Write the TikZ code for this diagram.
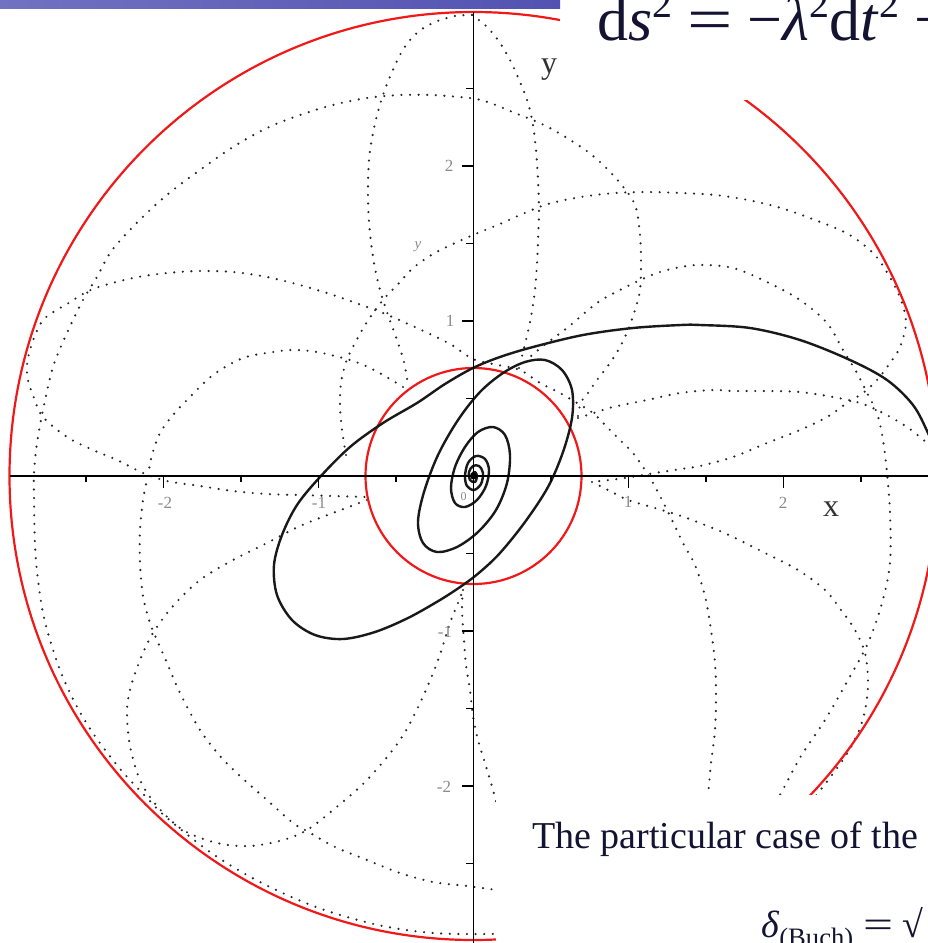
\documentclass[tikz,border=0pt]{standalone}
\usepackage{fontspec}
\setmainfont{Liberation Serif}
\usepackage{graphicx}
\definecolor{barA}{HTML}{7272C2}
\definecolor{barB}{HTML}{A6A6DC}
\definecolor{barC}{HTML}{5252B2}
\definecolor{ink}{HTML}{141432}
\definecolor{redline}{HTML}{F01818}
\definecolor{labgray}{HTML}{8A8A8A}
\newcommand{\supnum}[1]{\raisebox{23pt}{\fontsize{40}{40}\selectfont #1}}
\begin{document}
\begin{tikzpicture}[x=1pt,y=-1pt,
  dotc/.style={draw=black!85, line width=2.4pt, line cap=round, dash pattern=on 0pt off 8.6pt},
  spiral/.style={draw=black!90, line width=2.4pt, line join=round},
  redc/.style={draw=redline, line width=2.2pt},
  axisl/.style={draw=black, line width=1.6pt},
  tickl/.style={draw=black, line width=1.4pt},
  ticklab/.style={text=labgray, font=\fontsize{17}{17}\selectfont, inner sep=0pt},
  axlab/.style={text=black!80, font=\fontsize{32}{32}\selectfont, inner sep=0pt}]
\useasboundingbox (0,0) rectangle (928,943);
\clip (0,0) rectangle (928,943);
\coordinate (O) at (473.5,476);

% ---------------- dotted orbit ----------------
\draw[dotc] plot[smooth, tension=0.55] coordinates {(472,15) (455,16) (435,22) (418,32) (404,48) (392,72) (382,98) (374,128) (369,160) (368,200) (370,233) (374,263) (380,290) (388,315) (397,340) (404,362) (408,385)};
\draw[dotc] plot[smooth, tension=0.55] coordinates {(472,15) (485,25) (498,40) (510,60) (520,82) (528,103) (533,125) (536,150) (538,180) (539,210) (538,240) (537,263) (535,290) (531,317) (526,340) (522,356) (519,368)};
\draw[dotc] plot[smooth, tension=0.55] coordinates {(519,368) (530,357) (547,343) (567,328) (597,303) (620,290) (647,277) (667,270) (697,265) (733,268) (767,282) (800,300) (827,323) (843,350) (857,373) (867,393) (877,413) (883,440) (887,473) (890,513) (890,563) (882,603) (868,643) (848,680) (825,720) (801,756) (781,793) (770,810)};
\draw[dotc] plot[smooth, tension=0.55] coordinates {(578,416) (581,402) (588,393) (597,380) (610,363) (620,347) (628,330) (635,310) (640,290) (641,263) (640,235) (635,205) (620,183) (600,162) (581,147) (548,127) (515,113) (481,100) (448,96) (433,95) (400,95) (367,98) (333,105) (300,115) (267,128) (233,147) (200,170) (173,190) (150,210) (127,233) (110,253) (97,277) (83,300) (67,333) (53,367) (43,410) (37,443) (34,473) (34,496) (35,546) (38,580) (43,613) (50,640) (60,670) (72,697) (84,719) (97,739) (121,770) (149,800) (166,817) (210,852) (258,881) (316,907) (378,925) (433,933) (489,934) (515,933)};
\draw[dotc] plot[smooth, tension=0.55] coordinates {(578,418) (597,412) (613,407) (647,400) (680,393) (713,390) (733,391) (767,391) (800,392) (833,397) (860,403) (883,413) (907,427) (927,443) (940,455)};
\draw[dotc] plot[smooth, tension=0.55] coordinates {(706,805) (708,795) (711,763) (715,730) (716,696) (715,663) (711,630) (705,596) (695,565) (684,545) (672,520) (662,500) (653,483) (643,467) (633,453) (620,440) (607,427) (593,413) (577,403) (560,393) (540,383) (520,370) (498,365) (473,359) (450,344) (417,328) (383,313) (367,307) (333,295) (300,285) (267,277) (233,272) (200,271) (167,273) (133,278) (93,289) (67,304) (45,318) (36,333) (30,350) (27,365) (28,380) (34,398) (43,417) (67,437) (93,450) (117,460) (143,473) (167,481) (200,486) (233,491) (267,494) (300,495) (333,496) (367,497)};
\draw[dotc] plot[smooth, tension=0.55] coordinates {(403,387) (390,379) (370,368) (350,360) (317,352) (293,350) (273,352) (243,358) (213,375) (187,400) (173,415) (160,433) (152,455) (148,475) (143,500) (140,530) (140,563) (143,596) (150,623) (157,640) (167,663) (180,693) (200,730) (220,756) (240,776) (267,800) (293,823) (307,831) (333,846) (367,860) (400,873) (433,882) (467,886) (497,890)};
\draw[dotc] plot[smooth, tension=0.55] coordinates {(346,455) (342,430) (340,405) (341,383) (346,362) (355,343) (367,322) (383,300) (400,282) (413,268) (433,254) (453,244) (473,235) (500,224) (520,215) (548,204) (581,197) (615,193) (648,192) (681,193) (715,195) (748,200) (781,208) (815,220) (848,234) (873,253) (888,274) (901,300) (906,323) (900,347) (890,363) (877,380) (863,393) (847,403) (827,417) (800,430) (767,443) (733,457) (700,466) (681,469) (655,473) (625,478) (592,482)};
\draw[dotc] plot[smooth, tension=0.55] coordinates {(592,482) (610,491) (628,500) (655,508) (681,516) (710,527) (731,536) (765,553) (798,570) (825,590) (841,610) (855,630) (865,653) (868,680) (866,705) (860,728) (848,752) (832,775) (815,797)};
\draw[dotc] plot[smooth, tension=0.55] coordinates {(367,500) (333,513) (300,526) (267,543) (233,560) (200,580) (173,606) (153,633) (140,660) (130,690) (127,713) (130,746) (140,780) (157,806) (183,830) (217,843) (250,846) (283,840) (307,830) (333,810) (367,780) (400,740) (420,703) (437,663) (450,623) (458,603) (463,590)};
\draw[dotc] plot[smooth, tension=0.55] coordinates {(463,590) (462,610) (464,640) (466,665) (470,690) (473,716) (478,740) (485,763) (491,783) (497,805)};

% ---------------- red circles ----------------
\draw[redc] (O) circle[radius=464pt];
\draw[redc] (O) circle[radius=108pt];

% ---------------- black spiral ----------------
\draw[spiral] plot[smooth, tension=0.55] coordinates {(940,462) (928,433) (913,405) (887,380) (850,360) (800,340) (750,328) (700,325) (681,325) (633,328) (583,335) (533,347) (500,357) (473,368) (445,384) (417,403) (383,423) (350,447) (320,477) (297,505) (282,535) (274,565) (277,595) (292,620) (315,635) (343,639) (375,632) (408,618) (440,600) (463,585) (480,572) (500,553) (525,522) (548,487) (563,452) (572,418) (572,390) (562,370) (545,360) (525,362) (503,373) (480,392) (458,420) (438,455) (424,492) (418,522) (423,543) (437,552) (457,547) (478,532) (496,510) (507,483) (510,455) (505,435) (493,427) (478,432) (465,447) (455,467) (451,488) (455,503) (465,507) (477,500) (486,486) (489,470) (485,459) (476,456) (468,463) (465,476) (467,486) (474,490) (481,484) (483,473) (479,466) (473,466) (469,472) (470,480) (475,482) (477,476) (475,472) (472,474) (473,477)};
\fill[black] (O) circle[radius=3.5pt];

% ---------------- axes ----------------
\draw[axisl] (10,476) -- (928,476);
\draw[axisl] (473.5,12) -- (473.5,943);
\foreach \xx in {163.5,318.5,628.5,783.5} \draw[tickl] (\xx,476) -- (\xx,488);
\foreach \xx in {86,241,396,551,706,861} \draw[tickl] (\xx,476) -- (\xx,482);
\foreach \yy in {166,321,631,786} \draw[tickl] (473.5,\yy) -- (462,\yy);
\foreach \yy in {88.5,243.5,398.5,553.5,708.5,863.5} \draw[tickl] (473.5,\yy) -- (466,\yy);

\node[ticklab] (ly2) at (449,166) {2};
\node[ticklab] (ly1) at (450,321) {1};
\node[ticklab] (lym1) at (445,632) {-1};
\node[ticklab] (lym2) at (444,787) {-2};
\node[ticklab] (lxm2) at (165,503) {-2};
\node[ticklab] (lxm1) at (319,503) {-1};
\node[ticklab] (lx1) at (628,502) {1};
\node[ticklab] (lx2) at (783,503) {2};
\node[ticklab, font=\fontsize{12}{12}\selectfont] (l0) at (463.5,497) {0};
\node[ticklab, font=\itshape\fontsize{15}{15}\selectfont] (ysmall) at (418,247) {y};
\node[axlab] (ylab) at (549,70) {y};
\node[axlab] (xlab) at (831,509) {x};

% ---------------- overlay (slide) ----------------
\fill[white] (560,0) rectangle (928,100);
\fill[white] (496,795) rectangle (928,943);
\shade[left color=barA, middle color=barB, right color=barC] (0,0) rectangle (560,8);

\node[anchor=base west, inner sep=0pt, text=ink, font=\fontsize{62}{62}\selectfont] (formula) at (597,40)
  {d\textit{s}\supnum{2}\hspace{15pt}\scalebox{1.3}[1]{=}\hspace{15pt}−\textit{λ}\supnum{2}d\textit{t}\supnum{2}\hspace{15pt}+};
\node[anchor=base west, inner sep=0pt, text=ink, font=\fontsize{38}{38}\selectfont] (para) at (532,848)
  {The particular case of the};
\node[anchor=base west, inner sep=0pt, text=ink, font=\fontsize{38}{38}\selectfont] (delta) at (761,937)
  {\textit{δ}\textsubscript{(Buch)} \scalebox{1.4}[1]{=} √};
\end{tikzpicture}
\end{document}
